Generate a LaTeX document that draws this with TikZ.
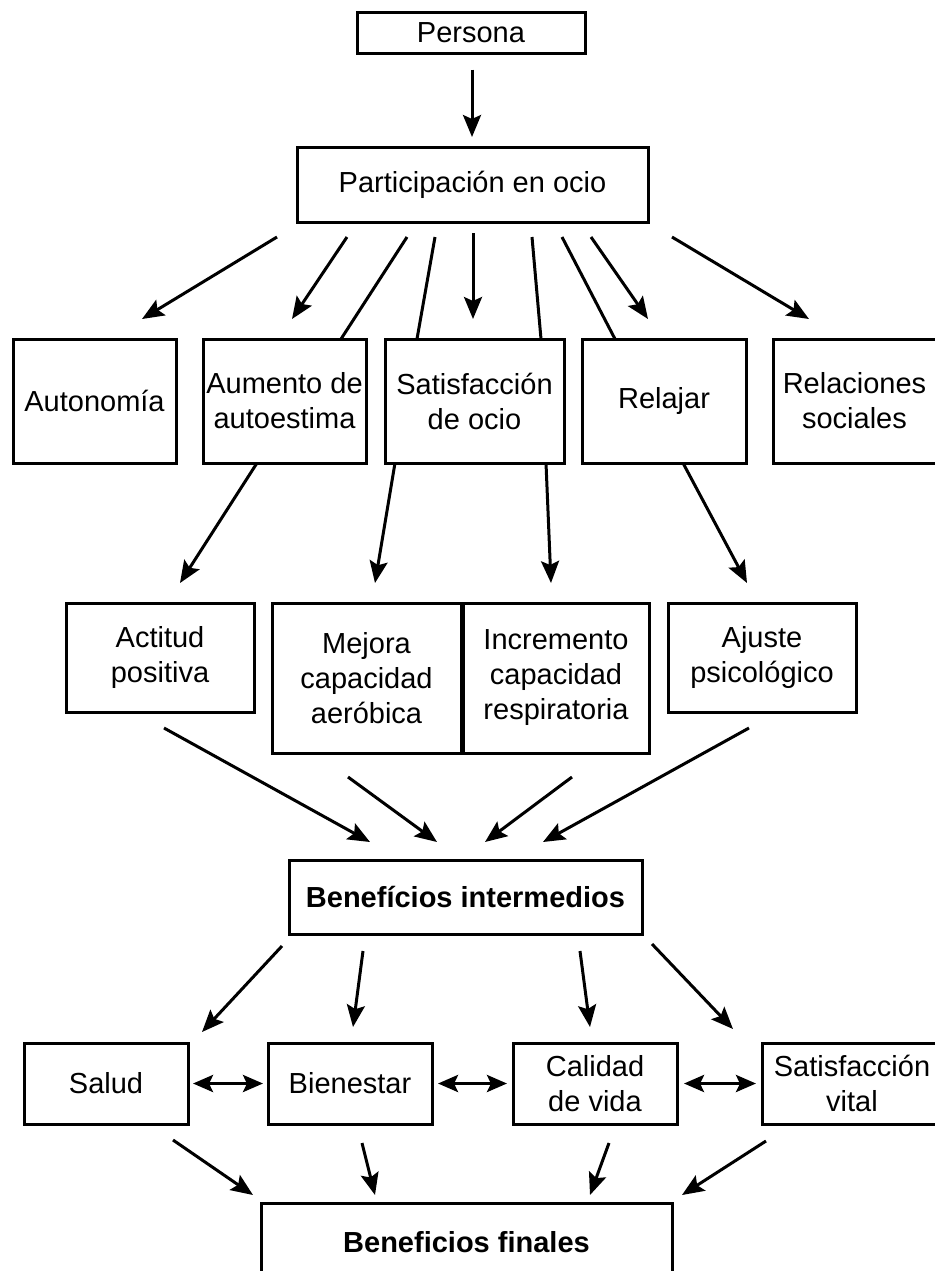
\documentclass[tikz,border=0pt]{standalone}
\usepackage{fontspec}
\setmainfont{Liberation Sans}
\usetikzlibrary{arrows.meta}

\begin{document}
\begin{tikzpicture}[x=0.5pt,y=-0.5pt]

  % Definitions
  \tikzstyle{Box} = [rectangle, draw=black, line width=1.5pt, inner sep=0pt, outer sep=0pt, align=center, font=\fontsize{14.5}{17.5}\selectfont]
  \tikzstyle{Benefit} = [Box, font=\fontsize{14.5}{17.5}\selectfont\bfseries]
  \tikzstyle{arrow} = [line width=1.5pt,-{Stealth[length=11pt,width=9pt,inset=2pt]}]
  \tikzstyle{Link} = [line width=1.5pt]
  \tikzstyle{twoway} = [line width=1.8pt,{Stealth[length=10pt,width=8.5pt,inset=2pt]}-{Stealth[length=10pt,width=8.5pt,inset=2pt]}]

  \useasboundingbox (0,0) rectangle (934,1271);

  \node (pers) [Box, minimum width=114pt, minimum height=20.5pt] at (471,33) {Persona};
  \node (part) [Box, minimum width=175.5pt, minimum height=37.5pt] at (472.5,184.5) {Participación en ocio};

  \node (aut) [Box, minimum width=81.5pt, minimum height=62pt] at (94.5,401) {Autonomía};
  \node (aum) [Box, minimum width=81.5pt, minimum height=62pt] at (284.5,401) {Aumento de\\autoestima};
  \node (sat) [Box, minimum width=89.5pt, minimum height=62pt] at (474.5,401) {Satisfacción\\de ocio};
  \node (rel) [Box, minimum width=82pt, minimum height=62pt] at (664,401) {Relajar};
  \node (soc) [Box, minimum width=81.5pt, minimum height=62pt] at (854.5,401) {Relaciones\\sociales};

  \node (act) [Box, minimum width=94pt, minimum height=54.5pt] at (160,657.5) {Actitud\\positiva};
  \node (mej) [Box, minimum width=94.5pt, minimum height=75pt] at (366.5,678) {Mejora\\capacidad\\aeróbica};
  \node (inc) [Box, minimum width=93pt, minimum height=75pt] at (556,678) {Incremento\\capacidad\\respiratoria};
  \node (aju) [Box, minimum width=94pt, minimum height=54.5pt] at (762,657.5) {Ajuste\\psicológico};

  \node (bint) [Benefit, minimum width=176.5pt, minimum height=37pt] at (465.5,897) {Benefícios intermedios};

  \node (sal) [Box, minimum width=82pt, minimum height=40.5pt] at (106,1083.5) {Salud};
  \node (bie) [Box, minimum width=82pt, minimum height=40.5pt] at (350,1083.5) {Bienestar};
  \node (cal) [Box, minimum width=82pt, minimum height=40.5pt] at (595,1083.5) {Calidad\\de vida};
  \node (svit) [Box, minimum width=90pt, minimum height=40.5pt] at (852,1083.5) {Satisfacción\\vital};

  \node (bfin) [Benefit, minimum width=205.5pt, minimum height=39pt] at (466.5,1242) {Beneficios finales};

  \draw [arrow] ([xshift=0.5pt,yshift=-8pt]pers.south) -- ([xshift=-0.25pt,yshift=5pt]part.north);

  \draw [arrow] ([xshift=-97.75pt,yshift=-7.5pt]part.south) -- ([xshift=23.75pt,yshift=10pt]aut.north);
  \draw [arrow] ([xshift=-62.75pt,yshift=-7.5pt]part.south) -- ([xshift=3.75pt,yshift=10pt]aum.north);
  \draw [Link] ([xshift=-32.75pt,yshift=-7.5pt]part.south) -- ([xshift=28.25pt]aum.north);
  \draw [Link] ([xshift=-18.75pt,yshift=-7.5pt]part.south) -- ([xshift=-28.75pt]sat.north);
  \draw [arrow] ([xshift=0.25pt,yshift=-5.5pt]part.south) -- ([xshift=-0.75pt,yshift=10pt]sat.north);
  \draw [Link] ([xshift=29.75pt,yshift=-7.5pt]part.south) -- ([xshift=33.25pt]sat.north);
  \draw [Link] ([xshift=44.75pt,yshift=-7.5pt]part.south) -- ([xshift=-24.5pt]rel.north);
  \draw [arrow] ([xshift=59.25pt,yshift=-7.5pt]part.south) -- ([xshift=-8pt,yshift=10pt]rel.north);
  \draw [arrow] ([xshift=99.75pt,yshift=-7.5pt]part.south) -- ([xshift=-22.75pt,yshift=10pt]soc.north);

  \draw [arrow] ([xshift=-13.75pt]aum.south) -- ([xshift=10pt,yshift=10pt]act.north);
  \draw [arrow] ([xshift=-39.75pt]sat.south) -- ([xshift=4.25pt,yshift=10pt]mej.north);
  \draw [arrow] ([xshift=35.75pt]sat.south) -- ([xshift=-2.5pt,yshift=10pt]inc.north);
  \draw [arrow] ([xshift=9.5pt]rel.south) -- ([xshift=-7.5pt,yshift=10pt]aju.north);

  \draw [arrow] ([xshift=2pt,yshift=-8pt]act.south) -- ([xshift=-47.75pt,yshift=9pt]bint.north);
  \draw [arrow] ([xshift=-9.25pt,yshift=-12pt]mej.south) -- ([xshift=-14.25pt,yshift=9pt]bint.north);
  \draw [arrow] ([xshift=8pt,yshift=-12pt]inc.south) -- ([xshift=9.75pt,yshift=9pt]bint.north);
  \draw [arrow] ([xshift=-6.5pt,yshift=-8pt]aju.south) -- ([xshift=38.75pt,yshift=9pt]bint.north);

  \draw [arrow] ([xshift=-91.75pt,yshift=-6pt]bint.south) -- ([xshift=48pt,yshift=5.5pt]sal.north);
  \draw [arrow] ([xshift=-51.25pt,yshift=-8.5pt]bint.south) -- ([xshift=1.5pt,yshift=8pt]bie.north);
  \draw [arrow] ([xshift=57.25pt,yshift=-8.5pt]bint.south) -- ([xshift=-2.5pt,yshift=8pt]cal.north);
  \draw [arrow] ([xshift=93.25pt,yshift=-5pt]bint.south) -- ([xshift=-59.5pt,yshift=7pt]svit.north);

  \draw [twoway, shorten <=2.5pt, shorten >=2.5pt] (sal) -- (bie);
  \draw [twoway, shorten <=3pt, shorten >=3pt] (bie) -- (cal);
  \draw [twoway, shorten <=3.5pt, shorten >=3pt] (cal) -- (svit);

  \draw [arrow] ([xshift=33.5pt,yshift=-8pt]sal.south) -- ([xshift=-106.75pt,yshift=4pt]bfin.north);
  \draw [arrow] ([xshift=6pt,yshift=-9.5pt]bie.south) -- ([xshift=-45.75pt,yshift=4pt]bfin.north);
  \draw [arrow] ([xshift=7pt,yshift=-9.5pt]cal.south) -- ([xshift=61.75pt,yshift=4pt]bfin.north);
  \draw [arrow] ([xshift=-43pt,yshift=-8.5pt]svit.south) -- ([xshift=107.75pt,yshift=4pt]bfin.north);

\end{tikzpicture}
\end{document}
